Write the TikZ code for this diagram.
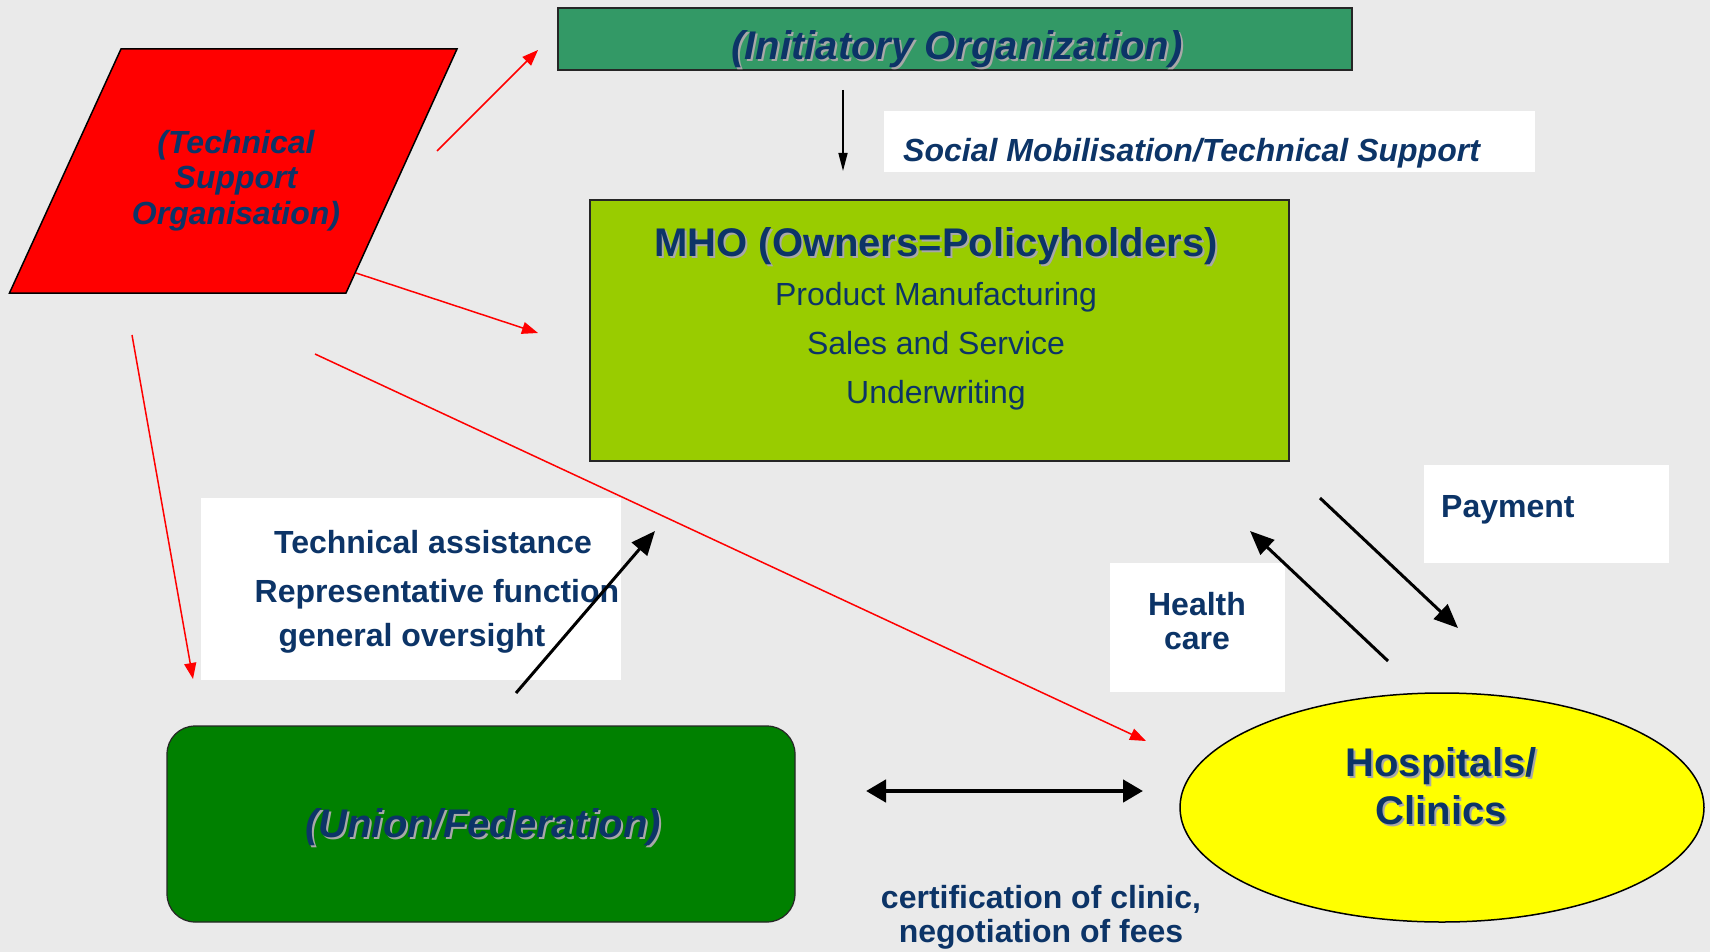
\documentclass[tikz,border=0pt]{standalone}
\usepackage{fontspec}
\setmainfont{Liberation Sans}
\usetikzlibrary{arrows.meta,shapes.geometric}

\definecolor{bg}{HTML}{EAEAEA}
\definecolor{navy}{HTML}{0C3467}
\definecolor{shade}{HTML}{A8A8A8}
\definecolor{initgreen}{HTML}{339966}
\definecolor{mhogreen}{HTML}{99CC00}
\definecolor{uniongreen}{HTML}{008000}
\definecolor{hospyellow}{HTML}{FFFF00}
\definecolor{linkred}{HTML}{FF0000}

% text with a soft grey drop shadow
\newcommand\shadowed[1]{\rlap{\kern2pt\raisebox{-2pt}{\textcolor{shade}{#1}}}#1}

\tikzset{
  txt/.style={text=navy, inner sep=0pt, anchor=base},
  bigtxt/.style={txt, font=\fontsize{40}{44}\selectfont\bfseries},
  bigit/.style={txt, font=\fontsize{40}{44}\selectfont\bfseries\itshape},
  midtxt/.style={txt, font=\fontsize{32}{35}\selectfont\bfseries},
  midit/.style={txt, font=\fontsize{32}{35}\selectfont\bfseries\itshape},
  plaintxt/.style={txt, font=\fontsize{32}{35}\selectfont},
  panel/.style={rectangle, draw=black!85, line width=1.5pt, inner sep=0pt},
  note/.style={rectangle, fill=white, inner sep=0pt},
  redlink/.style={draw=linkred, line width=1.5pt, -{Triangle[length=16pt,width=12pt]}},
  thinlink/.style={draw=black, line width=1.5pt, -{Triangle[length=18pt,width=9pt]}},
  thicklink/.style={draw=black, line width=3pt, -{Triangle[length=24pt,width=20pt]}},
  bothlink/.style={draw=black, line width=4.5pt, {Triangle[length=20pt,width=22pt]}-{Triangle[length=20pt,width=22pt]}},
}

\begin{document}
\begin{tikzpicture}[x=1pt,y=-1pt]
\useasboundingbox (0,0) rectangle (1710,952);
\fill[bg] (0,0) rectangle (1710,952);

% ---- boxes ----
\node[panel, fill=initgreen, minimum width=794, minimum height=62] (init) at (955,39) {};
\node[note, minimum width=651, minimum height=61] (socialbox) at (1209.5,141.5) {};
\node[panel, fill=mhogreen, minimum width=699, minimum height=261] (mho) at (939.5,330.5) {};
\node[note, minimum width=420, minimum height=182] (assistbox) at (411,589) {};
\node[note, minimum width=245, minimum height=98] (paybox) at (1546.5,514) {};
\node[note, minimum width=175, minimum height=129] (carebox) at (1197.5,627.5) {};
\node[panel, fill=uniongreen, line width=1.2pt, rounded corners=28pt, minimum width=628, minimum height=196] (union) at (481,824) {};
\node[ellipse, draw=black, line width=1.5pt, fill=hospyellow, minimum width=524, minimum height=229, inner sep=0pt] (hosp) at (1442,807.5) {};

% ---- technical support organisation (parallelogram) ----
\coordinate (tsoTL) at (121,49);
\coordinate (tsoTR) at (457,49);
\coordinate (tsoBR) at (346,293);
\coordinate (tsoBL) at (9.5,293);
\draw[fill=linkred, draw=black, line width=1.5pt] (tsoTL) -- (tsoTR) -- (tsoBR) -- (tsoBL) -- cycle;
\node[midit] (tso1) at (236,154) {(Technical};
\node[midit] (tso2) at (236,189) {Support};
\node[midit] (tso3) at (236,224) {Organisation)};

% ---- texts ----
\node[bigit] (initT) at (957,60) {\shadowed{(Initiatory Organization)}};
\node[midit, anchor=base west] (socialT) at (903,162) {Social Mobilisation/Technical Support};
\node[bigtxt] (mhoT) at (936,256) {\shadowed{MHO (Owners=Policyholders)}};
\node[plaintxt] (mho1) at (936,305) {Product Manufacturing};
\node[plaintxt] (mho2) at (936,354) {Sales and Service};
\node[plaintxt] (mho3) at (936,403) {Underwriting};
\node[midtxt] (as1) at (433,553) {Technical assistance};
\node[midtxt] (as2) at (437,602) {Representative function};
\node[midtxt] (as3) at (412,646) {general oversight};
\node[midtxt, anchor=base west] (payT) at (1441,517) {Payment};
\node[midtxt] (care1) at (1197,615) {Health};
\node[midtxt] (care2) at (1197,649) {care};
\node[bigit] (unionT) at (483,837) {\shadowed{(Union/Federation)}};
\node[bigtxt] (hosp1) at (1441,776) {\shadowed{Hospitals/}};
\node[bigtxt] (hosp2) at (1441,824) {\shadowed{Clinics}};
\node[midtxt] (cert1) at (1041,908) {certification of clinic,};
\node[midtxt] (cert2) at (1041,942) {negotiation of fees};

% ---- connector end points ----
\coordinate (r1a) at (437,151);
\coordinate (r1b) at (538,50);
\coordinate (r2a) at (356,273);
\coordinate (r2b) at (538,333);
\coordinate (r3a) at (132,335);
\coordinate (r3b) at (193,679);
\coordinate (r4a) at (315,354);
\coordinate (r4b) at (1146,741);
\coordinate (k1a) at (843,90);
\coordinate (k1b) at (843,171);
\coordinate (k2a) at (516,693);
\coordinate (k2b) at (655,531);
\coordinate (k3a) at (1320,498);
\coordinate (k3b) at (1458,628);
\coordinate (k4a) at (1388,661);
\coordinate (k4b) at (1250,531);
\coordinate (k5a) at (866,791);
\coordinate (k5b) at (1143,791);

% ---- connectors ----
\draw[redlink] (r1a) -- (r1b);
\draw[redlink] (r2a) -- (r2b);
\draw[redlink] (r3a) -- (r3b);
\draw[redlink] (r4a) -- (r4b);
\draw[thinlink] (k1a) -- (k1b);
\draw[thicklink] (k2a) -- (k2b);
\draw[thicklink] (k3a) -- (k3b);
\draw[thicklink] (k4a) -- (k4b);
\draw[bothlink] (k5a) -- (k5b);
\end{tikzpicture}
\end{document}
